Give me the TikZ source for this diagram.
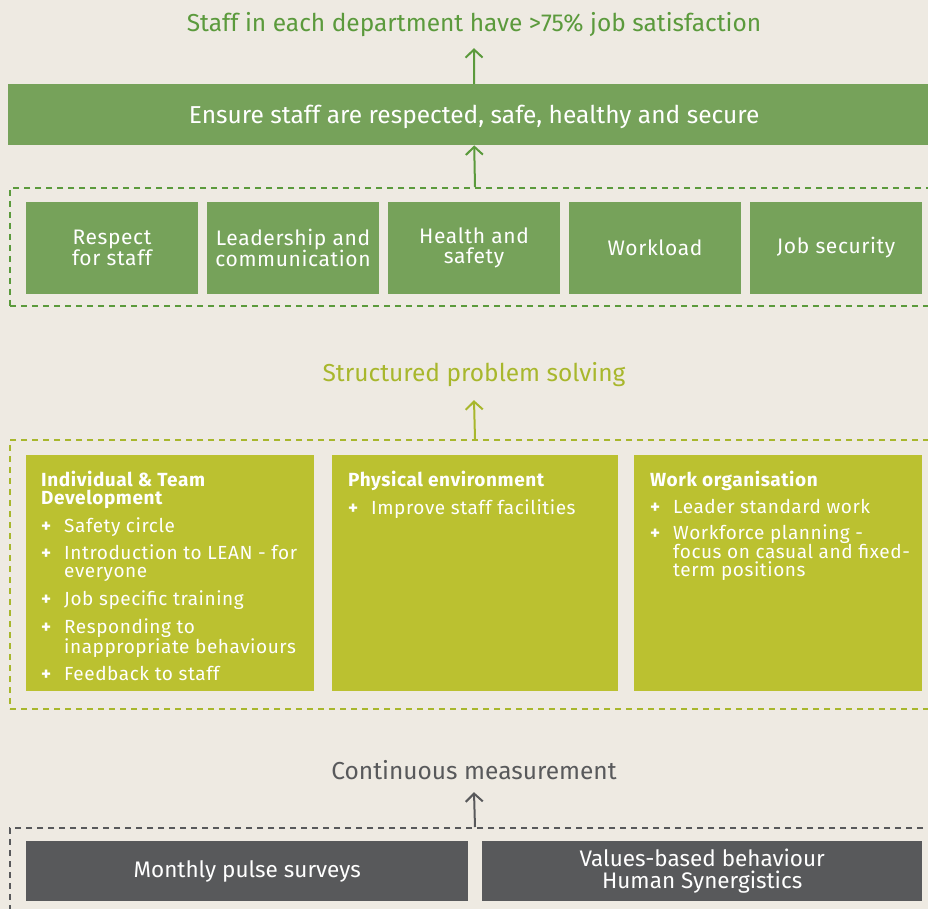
\documentclass[tikz,border=0pt]{standalone}
\usepackage{fontspec}
\setmainfont{Fira Sans}
\newfontfamily\trk[LetterSpace=3]{Fira Sans}
\usetikzlibrary{arrows.meta}
\definecolor{bg}{HTML}{EEEAE2}
\definecolor{gtext}{HTML}{5B9A3C}
\definecolor{gfill}{HTML}{76A25A}
\definecolor{otext}{HTML}{A8B72C}
\definecolor{ofill}{HTML}{BBC130}
\definecolor{ktext}{HTML}{58595B}
\definecolor{kfill}{HTML}{58595B}
\newcommand\itm[1]{\par\vspace{8pt}\hangindent=23pt\hangafter=1\noindent\makebox[23pt][l]{\textbf{+}}#1}
\newcommand\boxlist[1]{\begin{minipage}[t]{300pt}\parskip=0pt\raggedright\trk\fontsize{19}{18}\selectfont #1\end{minipage}}
\begin{document}
\begin{tikzpicture}[x=1pt,y=-1pt,
  lbl/.style={font=\fontsize{24.5}{28}\selectfont, inner xsep=0pt, text depth=0pt},
  arr/.style={line width=2pt, -{Straight Barb[length=8pt,width=17pt]}},
  grp/.style={line width=2pt, dash pattern=on 6pt off 5pt, inner sep=0pt, anchor=north west, minimum width=930pt},
  gbox/.style={fill=gfill, text=white, minimum width=172pt, minimum height=91pt, inner sep=0pt, align=center, font=\trk\fontsize{21}{19.5}\selectfont},
  obox/.style={fill=ofill, minimum height=236pt, inner sep=0pt, anchor=north west},
  kbox/.style={fill=kfill, text=white, minimum height=60pt, inner sep=0pt, anchor=north west, align=center, font=\fontsize{22.5}{22}\selectfont},
  btext/.style={anchor=base west, inner sep=0pt, text=white}]
\fill[bg] (0,0) rectangle (928,909);
\useasboundingbox (0,0) rectangle (928,909);

% top
\node[lbl, text=gtext, anchor=base, inner ysep=16pt] (goal) at (474,32) {Staff in each department have >75\% job satisfaction};
\node[fill=gfill, text=white, font=\fontsize{24.5}{28}\selectfont, text depth=0pt, minimum width=932pt, minimum height=61pt, inner sep=0pt, anchor=north west] (ensure) at (8,84) {Ensure staff are respected, safe, healthy and secure};
\draw[arr, gtext] (ensure.north) -- (goal.south);

% group 1
\node[grp, draw=gtext, minimum height=118pt] (g1) at (9,187) {};
\draw[arr, gtext] (g1.north) -- (ensure.south);
\node[gbox] (b1) at (112,248) {Respect\\for staff};
\node[gbox] (b2) at (293,248) {Leadership and\\communication};
\node[gbox] (b3) at (474,248) {Health and\\safety};
\node[gbox] (b4) at (655,248) {Workload};
\node[gbox] (b5) at (836,248) {Job security};

% structured problem solving
\node[lbl, text=otext, anchor=base, inner ysep=19pt] (sps) at (474,381) {Structured problem solving};
\node[grp, draw=otext, minimum height=269pt] (g2) at (9,439) {};
\draw[arr, otext] (g2.north) -- (sps.south);
\node[obox, minimum width=288pt] (oA) at (26,455) {};
\node[obox, minimum width=286pt] (oB) at (332,455) {};
\node[obox, minimum width=288pt] (oC) at (634,455) {};
\node[btext] (tA) at (41,486) {\boxlist{\textbf{Individual \& Team\\Development}
\itm{Safety circle}
\itm{Introduction to LEAN - for\newline everyone}
\itm{Job specific training}
\itm{Responding to\newline inappropriate behaviours}
\itm{Feedback to staff}}};
\node[btext] (tB) at (348,486) {\boxlist{\textbf{Physical environment}
\itm{Improve staff facilities}}};
\node[btext] (tC) at (650,486) {\boxlist{\textbf{Work organisation}
\itm{Leader standard work}
\itm{Workforce planning -\newline focus on casual and fixed-\newline term positions}}};

% continuous measurement
\node[lbl, text=ktext, anchor=base, inner ysep=13pt] (cm) at (474,779) {Continuous measurement};
\node[grp, draw=ktext, minimum height=120pt] (g3) at (9,827) {};
\draw[arr, ktext] (g3.north) -- (cm.south);
\node[kbox, minimum width=442pt] (k1) at (26,841) {Monthly pulse surveys};
\node[kbox, minimum width=440pt] (k2) at (482,841) {Values-based behaviour\\Human Synergistics};
\end{tikzpicture}
\end{document}
